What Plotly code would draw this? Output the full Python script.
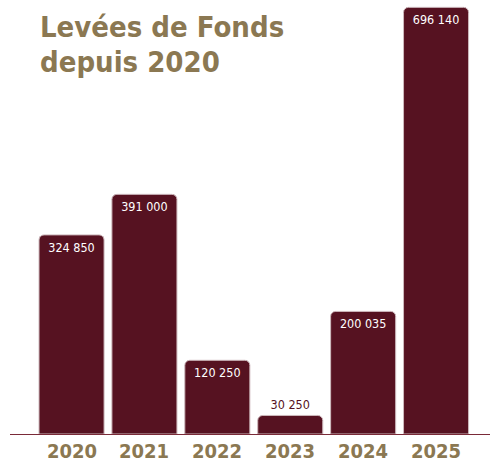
import plotly.graph_objects as go

years = ["2020", "2021", "2022", "2023", "2024", "2025"]
values = [324850, 391000, 120250, 30250, 200035, 696140]
labels = ["324 850", "391 000", "120 250", "30 250", "200 035", "696 140"]
positions = ["inside", "inside", "inside", "outside", "inside", "inside"]
title_lines = ["Levées de Fonds", "depuis 2020"]

BAR = "#561221"
GOLD = "#8B7852"
FONT = "DejaVu Sans Condensed, Liberation Sans Narrow, Roboto, sans-serif"

fig = go.Figure(go.Bar(
    x=years, y=values, text=labels, textposition=positions,
    insidetextanchor="end",
    insidetextfont=dict(family=FONT, size=12.5, color="white"),
    outsidetextfont=dict(family=FONT, size=12.5, color=BAR),
    marker=dict(color=BAR, cornerradius=5, line=dict(width=1, color="#cdb8bc")),
    cliponaxis=False,
    hoverinfo="skip",
))

H, W = 462, 490
mt, mb = 5, 28
ph = H - mt - mb

def py(p):
    return (H - mb - p) / ph

for i, line in enumerate(title_lines):
    fig.add_annotation(text=line, xref="paper", yref="paper", x=(38 - 10) / 480, y=py(27 + 35 * i),
                       xanchor="left", yanchor="middle", showarrow=False,
                       font=dict(family=FONT, size=29, color=GOLD, weight="bold"))

for i, yr in enumerate(years):
    fig.add_annotation(text=yr, x=i, xref="x", yref="paper", y=0, yanchor="top",
                       yshift=-3, showarrow=False,
                       font=dict(family=FONT, size=20, color=GOLD, weight="bold"))

fig.update_layout(
    width=W, height=H,
    margin=dict(l=10, r=0, t=mt, b=mb),
    paper_bgcolor="white", plot_bgcolor="white",
    bargap=0.108, showlegend=False,
    xaxis=dict(type="category", range=[-0.844, 5.74], showline=True, linecolor="#7a2a38",
               linewidth=1, ticks="", showgrid=False, zeroline=False, automargin=False,
               showticklabels=False),
    yaxis=dict(range=[0, 700000], visible=False, showgrid=False, zeroline=False, automargin=False),
)

fig.write_html("out.html")
